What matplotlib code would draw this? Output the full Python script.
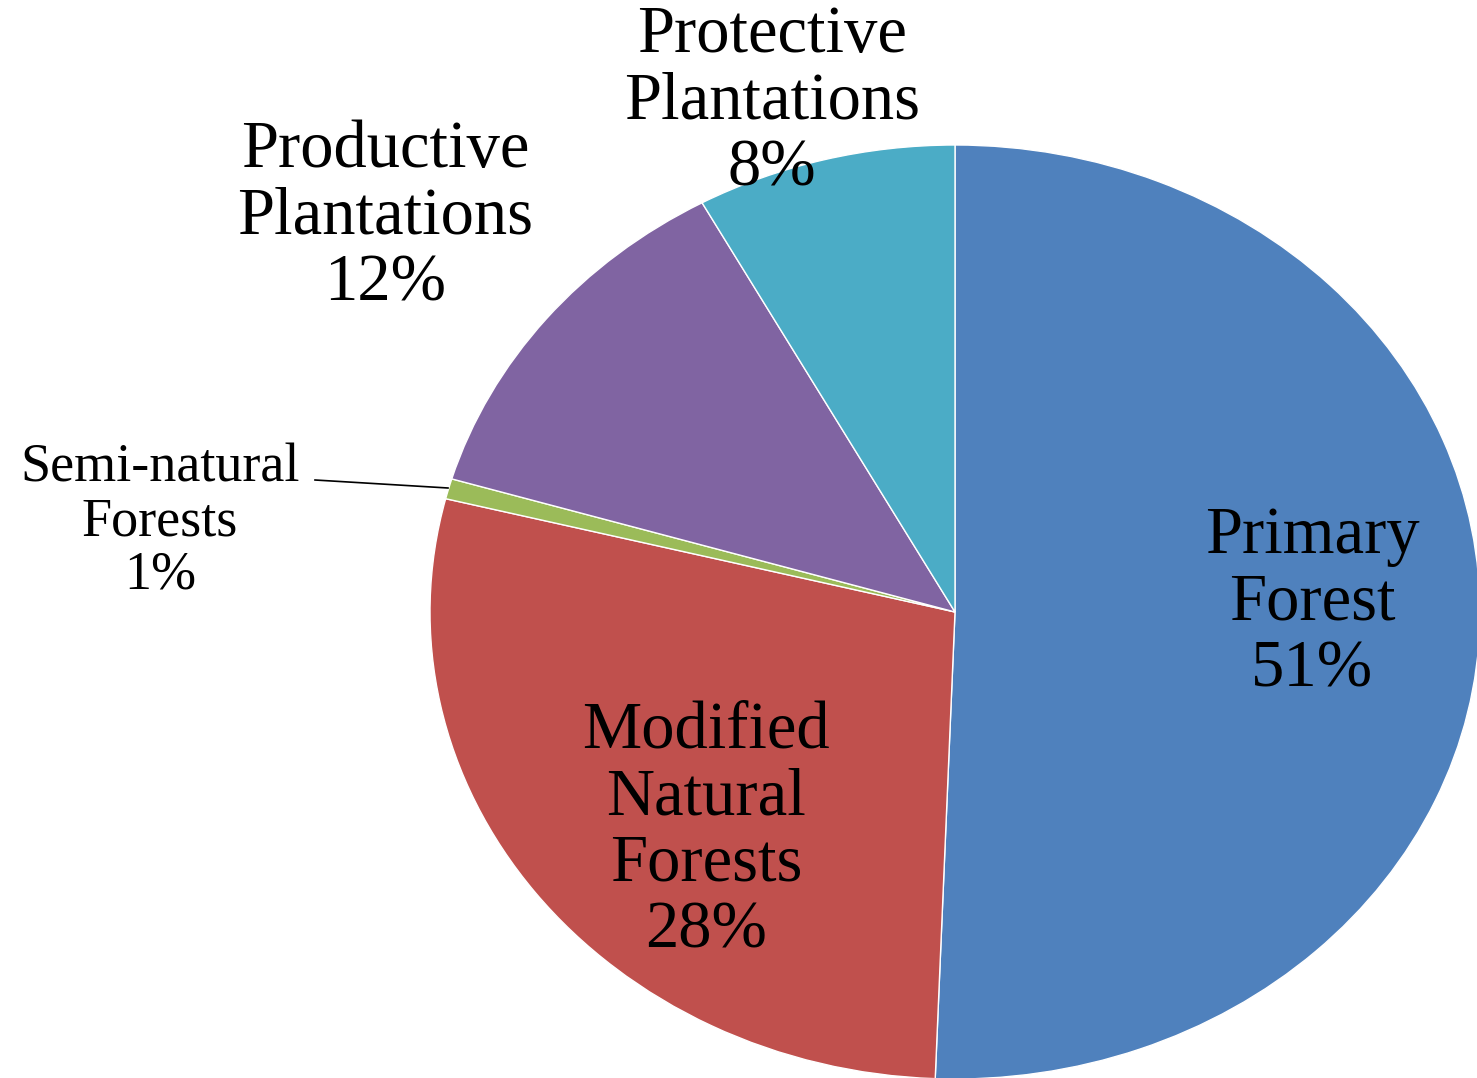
import matplotlib
matplotlib.use("Agg")
import matplotlib.pyplot as plt

categories = ["Primary\nForest", "Modified\nNatural\nForests", "Semi-natural\nForests",
              "Productive\nPlantations", "Protective\nPlantations"]
values = [50.6, 28.3, 0.7, 12.4, 8.0]
colors = ["#4F81BD", "#C0504D", "#9BBB59", "#8064A2", "#4BACC6"]
pct_labels = [f"{round(v)}%" for v in values]

W, H = 1477, 1078
fig = plt.figure(figsize=(W / 100, H / 100), dpi=100)
ax = fig.add_axes([0, 0, 1, 1])

# ellipse geometry (pixels)
cx, cy, rx, ry = 955, 612, 525, 467

ax.pie(values, colors=colors, startangle=90, counterclock=False,
       wedgeprops=dict(edgecolor="white", linewidth=1.0))
ax.set_aspect("auto")
ax.set_xlim(-cx / rx, (W - cx) / rx)
ax.set_ylim(-(H - cy) / ry, cy / ry)
ax.axis("off")

plt.rcParams["font.family"] = ["Liberation Serif", "DejaVu Serif"]

def px(x, y):
    return x / W, 1 - y / H

label_pos = [(1312, 603), (706, 831), (160, 522), (385, 217), (772, 102)]
sizes = [48, 48, 39, 48, 48]
spacings = [1.12, 1.12, 1.08, 1.12, 1.12]
for cat, pct, (x, y), fs, ls in zip(categories, pct_labels, label_pos, sizes, spacings):
    fig.text(*px(x, y), f"{cat}\n{pct}", ha="center", va="center",
             fontsize=fs, linespacing=ls, family=["Liberation Serif", "DejaVu Serif"],
             color="black")

# leader line for the small slice
fig.add_artist(plt.Line2D([315 / W, 448 / W], [1 - 480 / H, 1 - 488 / H],
                          transform=fig.transFigure, color="black", linewidth=1.2))

fig.savefig("out.png", dpi=100)
